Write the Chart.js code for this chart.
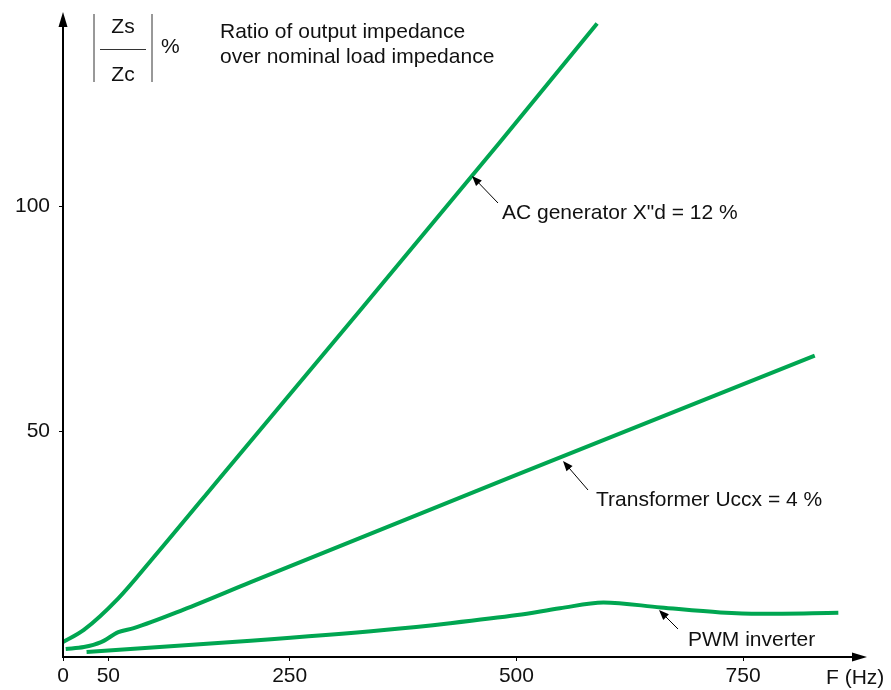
<!DOCTYPE html>
<html>
<head>
<meta charset="utf-8">
<script src="https://cdn.jsdelivr.net/npm/chart.js@4.4.1/dist/chart.umd.min.js"></script>
<style>
  html, body { margin: 0; padding: 0; background: #fff; }
  #wrap { width: 891px; height: 690px; }
</style>
</head>
<body>
<div id="wrap"><canvas id="impChart" width="891" height="690"></canvas></div>
<script>
// Frequency (Hz) / ratio |Zs/Zc| (%)
const freqAC = [0, 23, 61, 97, 182, 328, 482, 589];
const ratioAC = [3.3, 6.0, 13.0, 21.4, 41.9, 77, 114.3, 140.6];

const freqTrafo = [3, 23, 42, 61, 78, 133, 207, 500, 829];
const ratioTrafo = [1.8, 2.2, 3.3, 5.5, 6.4, 10.5, 16.6, 40.4, 66.9];

const freqPWM = [26, 207, 354, 427, 501, 548, 596, 659, 725, 769, 855];
const ratioPWM = [1.1, 3.6, 6.0, 7.5, 9.3, 10.8, 12.1, 11.0, 9.9, 9.6, 9.8];

const xTicks = [0, 50, 250, 500, 750];
const yTicks = [50, 100];

const FONT = '"Liberation Sans", Arial, sans-serif';
const GREEN = '#00a651';

const toPoints = (xs, ys) => xs.map((x, i) => ({ x: x, y: ys[i] }));

const lineSet = (label, xs, ys) => ({
    label: label,
    data: toPoints(xs, ys),
    borderColor: GREEN,
    borderWidth: 4,
    pointRadius: 0,
    cubicInterpolationMode: 'monotone',
    fill: false,
    clip: false
});

// arrow helper
function arrow(ctx, x1, y1, x2, y2, head, half) {
    const a = Math.atan2(y2 - y1, x2 - x1);
    ctx.beginPath();
    ctx.moveTo(x1, y1);
    ctx.lineTo(x2 - Math.cos(a) * head * 0.8, y2 - Math.sin(a) * head * 0.8);
    ctx.stroke();
    ctx.beginPath();
    ctx.moveTo(x2, y2);
    ctx.lineTo(x2 - Math.cos(a) * head - Math.sin(a) * half, y2 - Math.sin(a) * head + Math.cos(a) * half);
    ctx.lineTo(x2 - Math.cos(a) * head + Math.sin(a) * half, y2 - Math.sin(a) * head - Math.cos(a) * half);
    ctx.closePath();
    ctx.fill();
}

const decorPlugin = {
    id: 'decor',
    afterDraw: (chart) => {
        const { ctx, chartArea } = chart;
        const x0 = chartArea.left, y0 = chartArea.bottom;
        ctx.save();
        ctx.strokeStyle = '#000';
        ctx.fillStyle = '#000';

        // axes with arrow heads
        ctx.lineWidth = 2;
        arrow(ctx, x0, y0 + 1, x0, 12, 15, 4.5);
        arrow(ctx, x0 - 1, y0, 867, y0, 15, 4.5);

        // |Zs / Zc| % label
        ctx.lineWidth = 1;
        ctx.strokeStyle = '#333';
        ctx.beginPath();
        ctx.moveTo(94, 14); ctx.lineTo(94, 82);
        ctx.moveTo(152, 14); ctx.lineTo(152, 82);
        ctx.moveTo(100, 49.5); ctx.lineTo(146, 49.5);
        ctx.stroke();

        ctx.font = '21px ' + FONT;
        ctx.fillStyle = '#111';
        ctx.textBaseline = 'middle';
        ctx.textAlign = 'center';
        ctx.fillText('Zs', 123, 27);
        ctx.fillText('Zc', 123, 75);
        ctx.textAlign = 'left';
        ctx.fillText('%', 161, 47);
        ctx.fillText('Ratio of output impedance', 220, 32);
        ctx.fillText('over nominal load impedance', 220, 57);

        // x axis title
        ctx.fillText('F (Hz)', 826, 678);

        // curve annotations
        ctx.fillText('AC generator X"d = 12 %', 502, 213);
        ctx.fillText('Transformer Uccx = 4 %', 596, 500);
        ctx.fillText('PWM inverter', 688, 640);

        ctx.strokeStyle = '#000';
        ctx.fillStyle = '#000';
        ctx.lineWidth = 1;
        arrow(ctx, 498, 203, 472, 176, 10, 4);
        arrow(ctx, 588, 490, 563, 461, 10, 4);
        arrow(ctx, 678, 629, 659, 610, 10, 4);
        ctx.restore();
    }
};

const ctx = document.getElementById('impChart').getContext('2d');

new Chart(ctx, {
    type: 'line',
    data: {
        datasets: [
            lineSet('AC generator', freqAC, ratioAC),
            lineSet('Transformer', freqTrafo, ratioTrafo),
            lineSet('PWM inverter', freqPWM, ratioPWM)
        ]
    },
    options: {
        responsive: false,
        animation: false,
        layout: { padding: { top: 18, right: 30, left: 0, bottom: 0 } },
        plugins: {
            legend: { display: false },
            tooltip: { enabled: false }
        },
        scales: {
            x: {
                type: 'linear',
                min: 0,
                max: 880,
                afterBuildTicks: (scale) => { scale.ticks = xTicks.map(v => ({ value: v })); },
                afterFit: (scale) => { scale.height = 33; },
                border: { display: false },
                grid: { drawOnChartArea: false, drawTicks: true, tickLength: 4, color: '#000', lineWidth: 1 },
                ticks: {
                    color: '#111',
                    font: { family: FONT, size: 21 },
                    padding: 3,
                    maxRotation: 0,
                    autoSkip: false
                }
            },
            y: {
                type: 'linear',
                min: 0,
                max: 141,
                afterBuildTicks: (scale) => { scale.ticks = yTicks.map(v => ({ value: v })); },
                afterFit: (scale) => { scale.width = 63; },
                border: { display: false },
                grid: { drawOnChartArea: false, drawTicks: true, tickLength: 4, color: '#000', lineWidth: 1 },
                ticks: {
                    color: '#111',
                    font: { family: FONT, size: 21 },
                    padding: 9
                }
            }
        }
    },
    plugins: [decorPlugin]
});
</script>
</body>
</html>
